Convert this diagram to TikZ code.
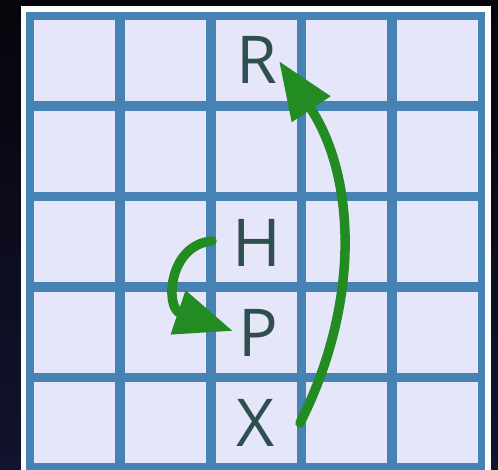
\documentclass[tikz,border=0pt]{standalone}
\usepackage{fontspec}
\setmainfont{Open Sans}
\usetikzlibrary{arrows.meta}
\definecolor{cellc}{HTML}{E6E6FA}
\definecolor{gridc}{HTML}{4682B4}
\definecolor{letc}{HTML}{2F4F4F}
\definecolor{arrc}{HTML}{228B22}
\definecolor{bgtop}{HTML}{05050B}
\definecolor{bgbot}{HTML}{13132F}
\tikzset{
  cellbox/.style={fill=cellc, draw=none},
  letter/.style={text=letc, font=\fontsize{66}{70}\selectfont, inner sep=0pt, anchor=center},
  garrow/.style={draw=arrc, line width=9.5pt, line cap=round, -{Triangle[length=58pt,width=44pt]}},
}
\begin{document}
\begin{tikzpicture}[x=1pt,y=-1pt]
\useasboundingbox (0,0) rectangle (498,470);
\shade[top color=bgtop, bottom color=bgbot] (0,0) rectangle (498,470);
\fill[white] (21,6) rectangle (491,470);
\fill[gridc] (26,12) rectangle (485,470);
\foreach \i in {0,...,4}{
  \foreach \j in {0,...,4}{
    \fill[cellc] ({34+90.8*\i},{20+90.6*\j}) rectangle ++(81,81);
  }
}
\node[letter] (R) at (257,60) {R};
\node[letter] (H) at (257,243) {H};
\node[letter] (P) at (258,333) {P};
\node[letter] (X) at (256,423) {X};
\coordinate (xs) at (300,423);
\coordinate (rt) at (279,61);
\coordinate (hs) at (212,241);
\coordinate (pt) at (233,331);
\draw[garrow] (xs) .. controls (362,300) and (355,175) .. (rt);
\draw[garrow] (hs) .. controls (168,245) and (165,308) .. (pt);
\end{tikzpicture}
\end{document}
